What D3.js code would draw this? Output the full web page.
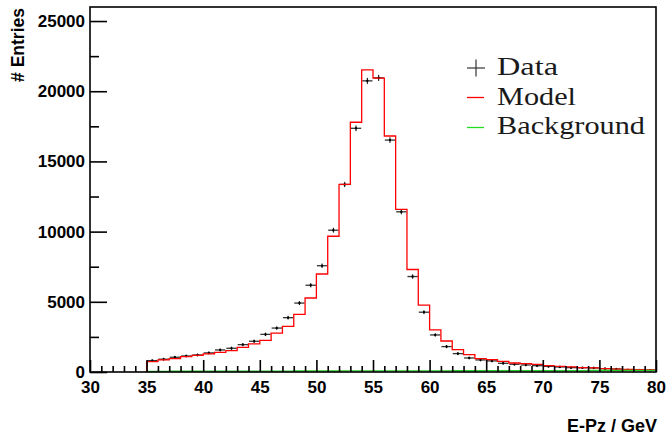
<!DOCTYPE html>
<html>
<head>
<meta charset="utf-8">
<script src="https://cdn.jsdelivr.net/npm/d3@7"></script>
<style>
  body { margin: 0; background: #fff; }
  svg { display: block; }
  .axis path { display: none; }
  .axis line { stroke: #000; stroke-width: 1.6; }
  .axis text { font-family: "Liberation Sans", Arial, sans-serif; font-weight: bold; font-size: 17px; fill: #000; }
</style>
</head>
<body>
<svg id="chart" width="669" height="441"></svg>
<script>
// bin lower edges (1 GeV wide), 35 .. 79
const binEdges = [35, 36, 37, 38, 39, 40, 41, 42, 43, 44, 45, 46, 47, 48, 49, 50, 51, 52, 53, 54, 55, 56, 57,
  58, 59, 60, 61, 62, 63, 64, 65, 66, 67, 68, 69, 70, 71, 72, 73, 74, 75, 76, 77, 78, 79]

const dataCounts = [810, 910, 1050, 1140, 1210, 1360, 1570, 1690, 1950, 2190, 2680, 3130, 3870, 4910, 6180,
  7570, 10100, 13360, 17360, 20740, 20950, 16520, 11410, 6800, 4260, 2640, 1810, 1310, 1000, 860,
  790, 620, 550, 500, 450, 400, 360, 310, 300, 290, 240, 210, 150, 140, 130]

const modelCounts = [740, 860, 950, 1090, 1190, 1290, 1400, 1520, 1760, 2000, 2250, 2770, 3250, 4100, 5270,
  6980, 9670, 13360, 17790, 21520, 20930, 16810, 11590, 7300, 4760, 3000, 2210, 1600, 1240, 950,
  880, 760, 640, 600, 550, 450, 400, 360, 310, 290, 240, 210, 190, 160, 150]

const backgroundCounts = [50, 50, 55, 55, 55, 60, 60, 60, 60, 65, 65, 65, 65, 70, 70,
  70, 70, 75, 75, 75, 80, 80, 80, 80, 85, 85, 85, 90, 90, 90,
  95, 95, 95, 100, 100, 100, 105, 105, 105, 110, 110, 110, 110, 110, 110]

const xTicksMajor = [30, 35, 40, 45, 50, 55, 60, 65, 70, 75, 80]
const yTicksMajor = [0, 5000, 10000, 15000, 20000, 25000]

const legendItems = ['Data', 'Model', 'Background']

const binWidth = 1

// frame box
const frameL = 90, frameR = 656, frameT = 7, frameB = 372

const svg = d3.select('#chart')

const x = d3.scaleLinear().domain([30, 80]).range([frameL, frameR])
const y = d3.scaleLinear().domain([0, 26000]).range([frameB, frameT])

// step histogram helper: start at zero at the first edge, close at last edge
function stepPoints (counts) {
  const pts = [[binEdges[0], 0]]
  counts.forEach((c, i) => pts.push([binEdges[i], c]))
  pts.push([binEdges[binEdges.length - 1] + binWidth, counts[counts.length - 1]])
  return pts
}

const stepLine = d3.line()
  .x(d => x(d[0]))
  .y(d => y(d[1]))
  .curve(d3.curveStepAfter)

// data points: horizontal bin-width bar, sqrt(N) error bar and a small dot
const pts = svg.append('g').attr('class', 'data')
  .selectAll('g').data(dataCounts).join('g')

pts.append('line')
  .attr('x1', (d, i) => x(binEdges[i]) + 0.5)
  .attr('x2', (d, i) => x(binEdges[i] + binWidth) - 0.5)
  .attr('y1', d => y(d)).attr('y2', d => y(d))
  .attr('stroke', '#333').attr('stroke-width', 1.3)

pts.append('line')
  .attr('x1', (d, i) => x(binEdges[i] + binWidth / 2))
  .attr('x2', (d, i) => x(binEdges[i] + binWidth / 2))
  .attr('y1', d => y(d + Math.sqrt(d)) - 1)
  .attr('y2', d => y(d - Math.sqrt(d)) + 1)
  .attr('stroke', '#000').attr('stroke-width', 1)

pts.append('rect')
  .attr('x', (d, i) => x(binEdges[i] + binWidth / 2) - 1)
  .attr('y', d => y(d) - 1)
  .attr('width', 2).attr('height', 2)
  .attr('fill', '#000')

// model and background curves
svg.append('path')
  .attr('d', stepLine(stepPoints(modelCounts)))
  .attr('fill', 'none').attr('stroke', '#ff0000').attr('stroke-width', 1.3)

svg.append('path')
  .attr('d', stepLine(stepPoints(backgroundCounts)))
  .attr('fill', 'none').attr('stroke', '#22cc22').attr('stroke-width', 1.3)

// axes, ticks point into the frame
const xMinor = d3.range(30, 81, 1).filter(v => !xTicksMajor.includes(v))
const yMinor = d3.range(2500, 26000, 5000)

svg.append('g').attr('class', 'axis')
  .attr('transform', `translate(0,${frameB})`)
  .call(d3.axisBottom(x).tickValues(xMinor).tickSizeInner(-6).tickSizeOuter(0).tickFormat(''))

svg.append('g').attr('class', 'axis')
  .attr('transform', `translate(0,${frameB})`)
  .call(d3.axisBottom(x).tickValues(xTicksMajor).tickSizeInner(-12).tickSizeOuter(0).tickPadding(9).tickFormat(d3.format('d')))

svg.append('g').attr('class', 'axis')
  .attr('transform', `translate(${frameL},0)`)
  .call(d3.axisLeft(y).tickValues(yMinor).tickSizeInner(-9).tickSizeOuter(0).tickFormat(''))

svg.append('g').attr('class', 'axis')
  .attr('transform', `translate(${frameL},0)`)
  .call(d3.axisLeft(y).tickValues(yTicksMajor).tickSizeInner(-17).tickSizeOuter(0).tickPadding(5).tickFormat(d3.format('d')))

// frame
svg.append('rect')
  .attr('x', frameL).attr('y', frameT)
  .attr('width', frameR - frameL).attr('height', frameB - frameT)
  .attr('fill', 'none').attr('stroke', '#000').attr('stroke-width', 1.6)

// axis titles
svg.append('text')
  .attr('x', 657).attr('y', 432)
  .attr('text-anchor', 'end')
  .style('font-family', '"Liberation Sans", Arial, sans-serif')
  .style('font-weight', 'bold').style('font-size', '18px')
  .text('E-Pz / GeV')

svg.append('text')
  .attr('transform', 'translate(24,8) rotate(-90)')
  .attr('text-anchor', 'end')
  .style('font-family', '"Liberation Sans", Arial, sans-serif')
  .style('font-weight', 'bold').style('font-size', '17.5px')
  .text('# Entries')

// legend
const legendX = 497, legendY0 = 75, legendStep = 29.5
const legendWidths = [61, 79, 148]
const lg = svg.append('g').attr('class', 'legend')

lg.selectAll('text').data(legendItems).join('text')
  .attr('x', legendX)
  .attr('y', (d, i) => legendY0 + i * legendStep)
  .attr('textLength', (d, i) => legendWidths[i])
  .attr('lengthAdjust', 'spacingAndGlyphs')
  .style('font-family', '"Liberation Serif", "Times New Roman", serif')
  .style('font-size', '26px')
  .attr('fill', '#1a1a1a')
  .text(d => d)

// '+' marker for data
lg.append('line').attr('x1', 467).attr('x2', 485).attr('y1', 68).attr('y2', 68)
  .attr('stroke', '#333').attr('stroke-width', 1.2)
lg.append('line').attr('x1', 476).attr('x2', 476).attr('y1', 59.5).attr('y2', 76.5)
  .attr('stroke', '#333').attr('stroke-width', 1.2)

lg.append('line').attr('x1', 467).attr('x2', 484).attr('y1', 97.5).attr('y2', 97.5)
  .attr('stroke', '#ff0000').attr('stroke-width', 1.3)
lg.append('line').attr('x1', 467).attr('x2', 484).attr('y1', 127.5).attr('y2', 127.5)
  .attr('stroke', '#22dd22').attr('stroke-width', 1.3)
</script>
</body>
</html>
